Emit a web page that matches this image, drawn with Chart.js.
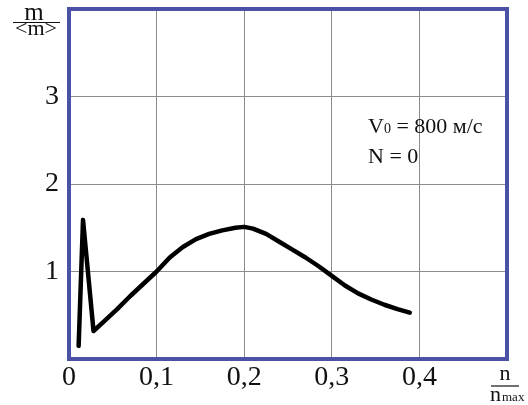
<!DOCTYPE html>
<html>
<head>
<meta charset="utf-8">
<script src="https://cdn.jsdelivr.net/npm/chart.js@4/dist/chart.umd.min.js"></script>
<style>
  html, body { margin: 0; padding: 0; background: #fff; }
  #wrap { width: 528px; height: 405px; }
</style>
</head>
<body>
<div id="wrap"><canvas id="chart"></canvas></div>
<script>
// n / n_max  and  m / <m>
var nRatio = [0.011, 0.016, 0.028, 0.04, 0.055, 0.07, 0.085, 0.1, 0.115, 0.13, 0.145, 0.16, 0.175, 0.19, 0.2,
              0.21, 0.225, 0.24, 0.255, 0.27, 0.285, 0.3, 0.315, 0.33, 0.345, 0.36, 0.375, 0.389];
var mRatio = [0.15, 1.59, 0.32, 0.43, 0.57, 0.72, 0.86, 1.0, 1.16, 1.28, 1.37, 1.43, 1.47, 1.50, 1.51,
              1.49, 1.43, 1.34, 1.25, 1.16, 1.06, 0.95, 0.84, 0.75, 0.68, 0.62, 0.57, 0.53];
var xTickLabels = ['0', '0,1', '0,2', '0,3', '0,4', ''];
var yTickLabels = ['', '1', '2', '3', ''];

var serif = '"Liberation Serif", "DejaVu Serif", serif';

var points = nRatio.map(function (n, i) { return { x: n, y: mRatio[i] }; });

// blue frame + axis titles + note
var decor = {
    id: 'decor',
    afterDraw: function (chart) {
        var ctx = chart.ctx;
        var a = chart.chartArea;
        ctx.save();
        ctx.strokeStyle = '#4a52a6';
        ctx.lineWidth = 4;
        ctx.strokeRect(a.left, a.top, a.right - a.left, a.bottom - a.top);

        ctx.fillStyle = '#111';
        ctx.strokeStyle = '#111';
        ctx.lineWidth = 1.2;
        ctx.textAlign = 'center';
        ctx.textBaseline = 'alphabetic';

        // m / <m>
        ctx.font = '25px ' + serif;
        ctx.fillText('m', 34, 20);
        ctx.beginPath(); ctx.moveTo(13, 22.5); ctx.lineTo(60, 22.5); ctx.stroke();
        ctx.font = '22px ' + serif;
        ctx.fillText('<m>', 36, 35);

        // n / n_max
        ctx.font = '22px ' + serif;
        ctx.fillText('n', 505, 380);
        ctx.beginPath(); ctx.moveTo(491, 386); ctx.lineTo(519, 386); ctx.stroke();
        ctx.textAlign = 'left';
        ctx.fillText('n', 490, 401);
        ctx.font = '13px ' + serif;
        ctx.fillText('max', 502, 401);

        // note
        ctx.font = '22px ' + serif;
        ctx.fillText('V', 368, 133);
        var w = ctx.measureText('V').width;
        ctx.font = '14px ' + serif;
        ctx.fillText('0', 368 + w, 133);
        var w2 = ctx.measureText('0').width;
        ctx.font = '22px ' + serif;
        ctx.fillText(' = 800 м/с', 368 + w + w2, 133);
        ctx.fillText('N = 0', 368, 163);
        ctx.restore();
    }
};

var ctx = document.getElementById('chart').getContext('2d');
var chart = new Chart(ctx, {
    type: 'line',
    data: {
        datasets: [{
            data: points,
            borderColor: '#000',
            borderWidth: 4.5,
            pointRadius: 0,
            tension: 0,
            borderJoinStyle: 'round',
            borderCapStyle: 'round'
        }]
    },
    options: {
        responsive: true,
        maintainAspectRatio: false,
        animation: false,
        layout: { padding: { top: 9, right: 21, left: 0, bottom: 0 } },
        plugins: { legend: { display: false }, tooltip: { enabled: false } },
        scales: {
            x: {
                type: 'linear',
                min: 0,
                max: 0.5,
                ticks: {
                    stepSize: 0.1,
                    autoSkip: false,
                    maxRotation: 0,
                    color: '#111',
                    font: { family: serif, size: 28 },
                    padding: 2,
                    callback: function (v, i) { return xTickLabels[i]; }
                },
                grid: { color: '#8c8c8c', lineWidth: 1, drawTicks: false },
                border: { display: false },
                afterFit: function (s) { s.height = 46; }
            },
            y: {
                min: 0,
                max: 4,
                ticks: {
                    stepSize: 1,
                    color: '#111',
                    font: { family: serif, size: 28 },
                    padding: 10,
                    callback: function (v, i) { return yTickLabels[i]; }
                },
                grid: { color: '#8c8c8c', lineWidth: 1, drawTicks: false },
                border: { display: false },
                afterFit: function (s) { s.width = 69; s.paddingTop = 0; s.paddingBottom = 0; }
            }
        }
    },
    plugins: [decor]
});
</script>
</body>
</html>
